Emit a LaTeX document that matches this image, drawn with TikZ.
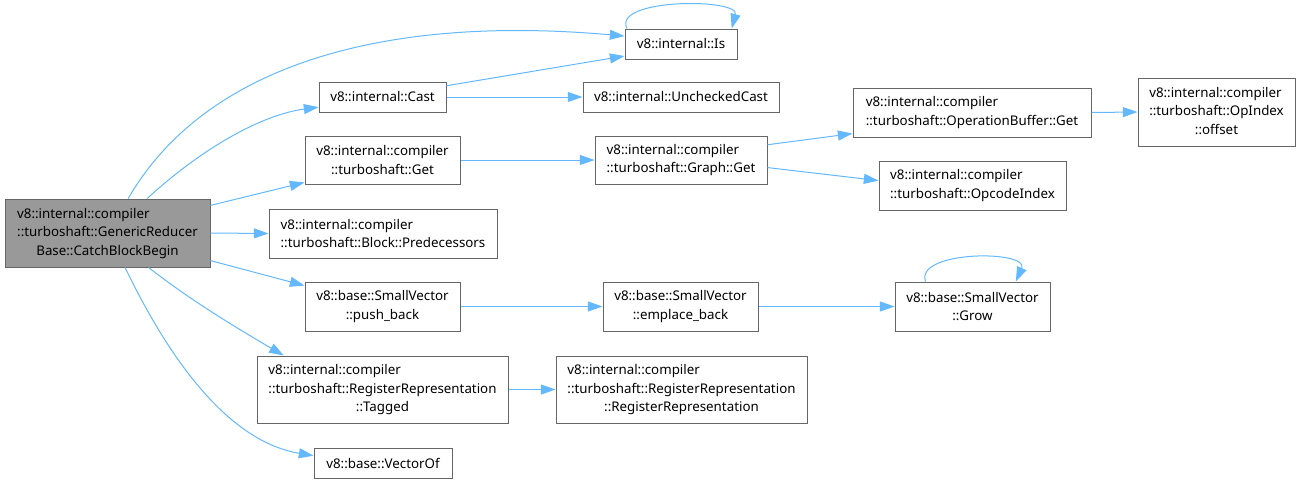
\documentclass[tikz,border=0pt]{standalone}
\usepackage{fontspec}
\setmainfont{Noto Sans}
\usetikzlibrary{arrows.meta}
\definecolor{edgeblue}{HTML}{63B8FF}
\definecolor{boxgray}{HTML}{666666}
\definecolor{mainfill}{HTML}{999999}
% two lines flush left, last line centred
\newcommand{\llc}[3]{\begin{tabular}{@{}l@{}}#1\\#2\\\multicolumn{1}{@{}c@{}}{#3}\end{tabular}}

\begin{document}
\begin{tikzpicture}[
    x=0.75pt, y=-0.75pt,
    fn/.style={rectangle, draw=boxgray, line width=0.75pt, fill=white, inner sep=0pt, align=center, font=\fontsize{10}{14}\selectfont},
    sz/.style 2 args={minimum width=#1*0.75pt, minimum height=#2*0.75pt},
    call/.style={-{Triangle[length=11pt,width=7.5pt]}, draw=edgeblue, line width=0.75pt}
]
    \useasboundingbox (0,0) rectangle (1300,483);

    % caller
    \node[fn, sz={205}{68}, fill=mainfill] (main) at (107.5,233) {\llc{v8::internal::compiler}{::turboshaft::GenericReducer}{Base::CatchBlockBegin}};

    % first level
    \node[fn, sz={112}{30}] (is) at (681,44) {v8::internal::Is};
    \node[fn, sz={127}{30}] (cast) at (382.5,97) {v8::internal::Cast};
    \node[fn, sz={155}{48}] (get) at (382.5,160) {v8::internal::compiler\\::turboshaft::Get};
    \node[fn, sz={228}{49}, align=left] (preds) at (383,233.5) {v8::internal::compiler\\::turboshaft::Block::Predecessors};
    \node[fn, sz={155}{49}] (pushback) at (382.5,306.5) {v8::base::SmallVector\\::push\_back};
    \node[fn, sz={251}{67}] (tagged) at (382.5,389.5) {\llc{v8::internal::compiler}{::turboshaft::RegisterRepresentation}{::Tagged}};
    \node[fn, sz={138}{30}] (vectorof) at (383,463) {v8::base::VectorOf};

    % second level
    \node[fn, sz={196}{30}] (unchecked) at (681,97) {v8::internal::UncheckedCast};
    \node[fn, sz={172}{48}, align=left] (graphget) at (681,160) {v8::internal::compiler\\::turboshaft::Graph::Get};
    \node[fn, sz={155}{49}] (emplace) at (680.5,306.5) {v8::base::SmallVector\\::emplace\_back};
    \node[fn, sz={251}{67}] (regrep) at (681.5,389.5) {\llc{v8::internal::compiler}{::turboshaft::RegisterRepresentation}{::RegisterRepresentation}};

    % third and fourth level
    \node[fn, sz={238}{49}, align=left] (bufget) at (972,112.5) {v8::internal::compiler\\::turboshaft::OperationBuffer::Get};
    \node[fn, sz={187}{49}, align=left] (opcode) at (972.5,185.5) {v8::internal::compiler\\::turboshaft::OpcodeIndex};
    \node[fn, sz={155}{49}] (grow) at (972.5,306.5) {v8::base::SmallVector\\::Grow};
    \node[fn, sz={157}{68}] (offset) at (1216.5,112) {\llc{v8::internal::compiler}{::turboshaft::OpIndex}{::offset}};

    % calls
    \draw[call] (main.59) .. controls (203,69) and (376,14) .. (is.172);
    \draw[call] (main.41) .. controls (200,150) and (260,115) .. (cast.189);
    \draw[call] (main.15) -- (get.196);
    \draw[call] (main.east) -- (preds.west);
    \draw[call] (main.-15) -- (pushback.165);
    \draw[call] (main.-40) .. controls (190,300) and (240,330) .. (tagged.161);
    \draw[call] (main.-63) .. controls (160,340) and (220,440) .. (vectorof.174);

    \draw[call] (is.164) .. controls (612,-2) and (740,-2) .. (is.17);
    \draw[call] (cast.10) -- (is.192);
    \draw[call] (cast.east) -- (unchecked.west);
    \draw[call] (get.east) -- (graphget.west);
    \draw[call] (graphget.10) -- (bufget.190);
    \draw[call] (graphget.-5) -- (opcode.177);
    \draw[call] (bufget.east) -- (offset.west);
    \draw[call] (pushback.east) -- (emplace.west);
    \draw[call] (emplace.east) -- (grow.west);
    \draw[call] (grow.152) .. controls (915,250) and (1030,250) .. (grow.30);
    \draw[call] (tagged.east) -- (regrep.west);
\end{tikzpicture}
\end{document}
